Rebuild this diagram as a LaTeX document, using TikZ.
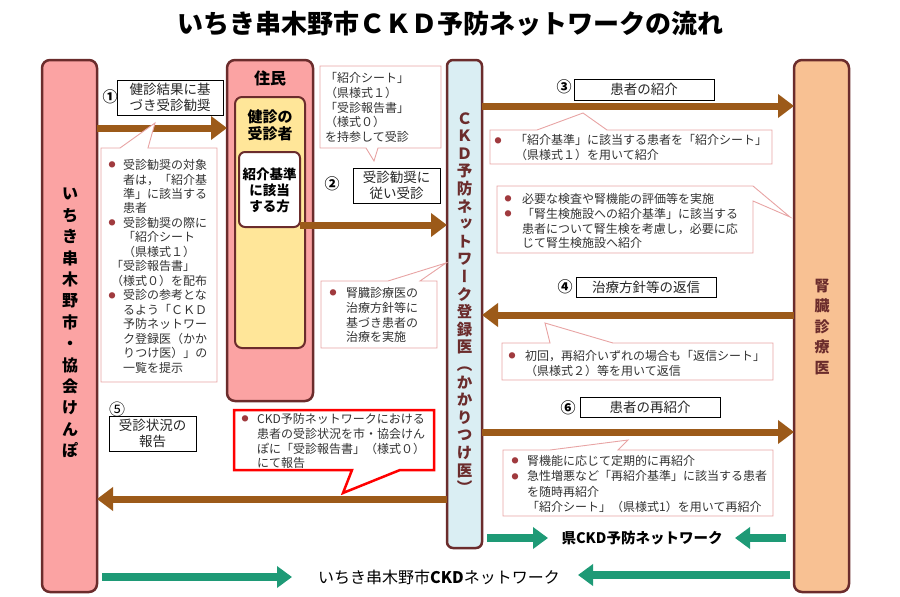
\documentclass[tikz,border=0pt]{standalone}
\usepackage{fontspec}
\setmainfont{Noto Sans CJK JP}
\newfontfamily\vjp{Noto Sans CJK JP}[RawFeature=+vert]
\usetikzlibrary{arrows.meta}
\definecolor{pinkf}{HTML}{FBA3A3}
\definecolor{bord}{HTML}{6B2C2C}
\definecolor{yelf}{HTML}{FFE699}
\definecolor{bluef}{HTML}{DAEEF3}
\definecolor{peachf}{HTML}{F8C193}
\definecolor{brarr}{HTML}{9C5A19}
\definecolor{grarr}{HTML}{1E9A76}
\definecolor{callb}{HTML}{E8A4A4}
\definecolor{bulc}{HTML}{A03A3E}
\definecolor{txt}{HTML}{333333}
\definecolor{redb}{HTML}{FF0000}
\newcommand\bul{\raisebox{1.8pt}{\color{bulc}\fontsize{7}{7}\selectfont ●}}
\begin{document}
\begin{tikzpicture}[x=1pt,y=-1pt,
  colbox/.style={draw=bord,line width=2.5pt,rounded corners=8pt,inner sep=0pt,outer sep=0pt,anchor=north west},
  inbox/.style={draw=bord,line width=2pt,rounded corners=7pt,inner sep=0pt,outer sep=0pt,anchor=north west},
  lab/.style={draw=black,line width=1pt,fill=white,inner sep=0pt,outer sep=0pt,anchor=north west,align=center,font=\fontsize{13.5}{16}\selectfont,text=black!85},
  num/.style={inner sep=0pt,font=\fontsize{15}{15}\selectfont\bfseries},
  callout/.style={draw=callb,line width=0.9pt,fill=white},
  redcall/.style={draw=redb,line width=2.5pt,fill=white},
  ctext/.style={inner sep=0pt,anchor=north west,align=left,text=txt},
  brown/.style={draw=brarr,line width=7pt,-{Triangle[length=16pt,width=23pt]}},
  green/.style={draw=grarr,line width=8.5pt,-{Triangle[length=15pt,width=21pt]}}
]
\useasboundingbox (0,0) rectangle (900,597);

% title
\node[font=\fontsize{26}{26}\selectfont\bfseries] (title) at (450,24) {いちき串木野市ＣＫＤ予防ネットワークの流れ};

% main columns
\node[colbox,fill=pinkf,minimum width=55pt,minimum height=532pt] (city) at (42,60) {};
\node[colbox,fill=pinkf,minimum width=86pt,minimum height=341pt] (res) at (227,60) {};
\node[colbox,fill=bluef,rounded corners=6pt,minimum width=35pt,minimum height=488pt] (ckd) at (447,60) {};
\node[colbox,fill=peachf,minimum width=55pt,minimum height=532pt] (kid) at (794,60) {};

\node[inbox,fill=yelf,minimum width=70pt,minimum height=251pt] (yel) at (235,97) {};
\node[inbox,fill=white,rounded corners=6pt,minimum width=61pt,minimum height=75pt] (who) at (239,152) {};

% column texts
\node[inner sep=0pt,align=center,font=\fontsize{16}{21.4}\selectfont\bfseries] (citytxt) at (70,323)
 {い\\ち\\き\\串\\木\\野\\市\\・\\協\\会\\け\\ん\\ぽ};
\node[inner sep=0pt,font=\fontsize{16}{16}\selectfont\bfseries] (restxt) at (270,78) {住民};
\node[inner sep=0pt,align=center,font=\fontsize{15}{17}\selectfont\bfseries] (yeltxt) at (270,125) {健診の\\受診者};
\node[inner sep=0pt,align=center,font=\fontsize{13.5}{16}\selectfont\bfseries] (whotxt) at (269.5,190) {紹介基準\\に該当\\する方};
\node[inner sep=0pt,align=center,text=bord,font=\vjp\fontsize{15.5}{17.6}\selectfont\bfseries] (ckdtxt) at (464.5,303)
 {Ｃ\\Ｋ\\Ｄ\\予\\防\\ネ\\ッ\\ト\\ワ\\ー\\ク\\登\\録\\医\\（\\か\\か\\り\\つ\\け\\医\\）};
\node[inner sep=0pt,align=center,text=bord,font=\fontsize{15}{20.5}\selectfont\bfseries] (kidtxt) at (822,327)
 {腎\\臓\\診\\療\\医};

% level coordinates
\coordinate (y1) at (0,128);
\coordinate (y2) at (0,225);
\coordinate (y3) at (0,106);
\coordinate (y4) at (0,315);
\coordinate (y6) at (0,432);
\coordinate (y5) at (0,499);

% brown arrows
\draw[brown] (city.east |- y1) -- (res.west |- y1);
\draw[brown] (who.east |- y2) -- (ckd.west |- y2);
\draw[brown] (ckd.east |- y3) -- (kid.west |- y3);
\draw[brown] (kid.west |- y4) -- (ckd.east |- y4);
\draw[brown] (ckd.east |- y6) -- (kid.west |- y6);
\draw[brown] (ckd.west |- y5) -- (city.east |- y5);

% callouts
\draw[callout] (101,148) -- (120,148) -- (155,123) -- (148,148) -- (217,148) -- (217,382) -- (101,382) -- cycle;
\draw[callout] (320,66) -- (441,66) -- (441,148) -- (378,148) -- (374,161) -- (366,148) -- (320,148) -- cycle;
\draw[callout] (321,281) -- (388,281) -- (446,263) -- (420,281) -- (437,281) -- (437,348) -- (321,348) -- cycle;
\draw[redcall] (234,410) -- (434,410) -- (434,470) -- (400,470) -- (343,493) -- (352,470) -- (234,470) -- cycle;
\draw[callout] (490,130) -- (537,130) -- (583,113) -- (607,130) -- (772,130) -- (772,164) -- (490,164) -- cycle;
\draw[callout] (497,186) -- (753,186) -- (790,217) -- (753,201) -- (753,253) -- (497,253) -- cycle;
\draw[callout] (502,343) -- (550,343) -- (545,323) -- (613,343) -- (773,343) -- (773,380) -- (502,380) -- cycle;
\draw[callout] (503,450) -- (550,450) -- (628,440) -- (618,450) -- (773,450) -- (773,516) -- (503,516) -- cycle;

% callout texts
\node[ctext,font=\fontsize{12}{14.4}\selectfont] (c1t) at (108.5,159.2) {\begin{tabular}{@{}p{14.5pt}@{}l@{}}
\bul & 受診勧奨の対象\\
 & 者は，「紹介基\\
 & 準」に該当する\\
 & 患者\\
\bul & 受診勧奨の際に\\
 & 「紹介シート\\
 & （県様式１）\\
\multicolumn{2}{@{}l@{}}{\hspace{2.5pt}「受診報告書」}\\
\multicolumn{2}{@{}l@{}}{\hspace{2.5pt}（様式０）を配布}\\
\bul & 受診の参考とな\\
 & るよう「ＣＫＤ\\
 & 予防ネットワー\\
 & ク登録医（かか\\
 & りつけ医）」の\\
 & 一覧を提示
\end{tabular}};

\node[ctext,font=\fontsize{12}{14.75}\selectfont] (c2t) at (325,72.2) {\begin{tabular}{@{}l@{}}
「紹介シート」\\
（県様式１）\\
「受診報告書」\\
（様式０）\\
を持参して受診
\end{tabular}};

\node[ctext,font=\fontsize{12}{14.7}\selectfont] (c3t) at (329.5,287.2) {\begin{tabular}{@{}p{16.5pt}@{}l@{}}
\bul & 腎臓診療医の\\
 & 治療方針等に\\
 & 基づき患者の\\
 & 治療を実施
\end{tabular}};

\node[ctext,font=\fontsize{12}{14.7}\selectfont] (c4t) at (241.5,413.2) {\begin{tabular}{@{}p{15.5pt}@{}l@{}}
\bul & CKD予防ネットワークにおける\\
 & 患者の受診状況を市・協会けん\\
 & ぽに「受診報告書」（様式０）\\
 & にて報告
\end{tabular}};

\node[ctext,font=\fontsize{12}{14.5}\selectfont] (c5t) at (494.5,134.5) {\begin{tabular}{@{}p{20.5pt}@{}l@{}}
\bul & 「紹介基準」に該当する患者を「紹介シート」\\
 & （県様式１）を用いて紹介
\end{tabular}};

\node[ctext,font=\fontsize{12}{14.7}\selectfont] (c6t) at (504.5,193.2) {\begin{tabular}{@{}p{17.5pt}@{}l@{}}
\bul & 必要な検査や腎機能の評価等を実施\\
\bul & 「腎生検施設への紹介基準」に該当する\\
 & 患者について腎生検を考慮し，必要に応\\
 & じて腎生検施設へ紹介
\end{tabular}};

\node[ctext,font=\fontsize{12}{14.5}\selectfont] (c7t) at (508.5,350.4) {\begin{tabular}{@{}p{16.5pt}@{}l@{}}
\bul & 初回，再紹介いずれの場合も「返信シート」\\
 & （県様式２）等を用いて返信
\end{tabular}};

\node[ctext,font=\fontsize{12}{15.2}\selectfont] (c8t) at (511.5,454.9) {\begin{tabular}{@{}p{15.5pt}@{}l@{}}
\bul & 腎機能に応じて定期的に再紹介\\
\bul & 急性増悪など「再紹介基準」に該当する患者\\
 & を随時再紹介\\
 & 「紹介シート」（県様式1）を用いて再紹介
\end{tabular}};

% labels
\node[lab,minimum width=106pt,minimum height=35pt] (l1) at (117,80) {健診結果に基\\づき受診勧奨};
\node[num] (n1) at (110,97) {①};
\node[lab,minimum width=87pt,minimum height=35pt] (l2) at (353,168) {受診勧奨に\\従い受診};
\node[num] (n2) at (332,184) {②};
\node[lab,minimum width=140pt,minimum height=21pt] (l3) at (574,79) {患者の紹介};
\node[num] (n3) at (564,87) {③};
\node[lab,minimum width=140pt,minimum height=20pt] (l4) at (576,277) {治療方針等の返信};
\node[num] (n4) at (565,287) {④};
\node[lab,minimum width=140pt,minimum height=20pt] (l6) at (580,397) {患者の再紹介};
\node[num] (n6) at (568,408) {⑥};
\node[lab,minimum width=87pt,minimum height=35pt] (l5) at (109,416) {受診状況の\\報告};
\node[inner sep=0pt,font=\fontsize{16}{16}\selectfont] (n5) at (117,409) {⑤};

% green network arrows
\coordinate (g1a) at (487,538);
\coordinate (g1b) at (548,538);
\coordinate (g2a) at (786,538);
\coordinate (g2b) at (735,538);
\coordinate (g3a) at (102,577);
\coordinate (g3b) at (292,577);
\coordinate (g4a) at (790,575);
\coordinate (g4b) at (578,575);
\draw[green] (g1a) -- (g1b);
\draw[green] (g2a) -- (g2b);
\draw[green] (g3a) -- (g3b);
\draw[green] (g4a) -- (g4b);
\node[inner sep=0pt,font=\fontsize{14.5}{14.5}\selectfont\bfseries] (kenckd) at (642,538) {県CKD予防ネットワーク};
\node[inner sep=0pt,font=\fontsize{16}{16}\selectfont] (cityckd) at (439,577) {いちき串木野市\textbf{CKD}ネットワーク};
\end{tikzpicture}
\end{document}
